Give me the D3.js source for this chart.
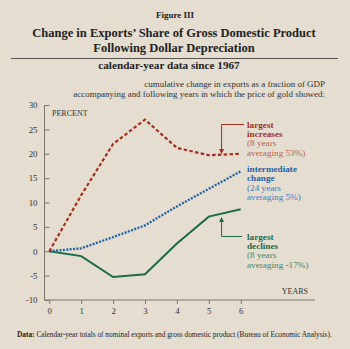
<!DOCTYPE html>
<html>
<head>
<meta charset="utf-8">
<script src="https://cdn.jsdelivr.net/npm/d3@7"></script>
<style>
  body { margin: 0; background: #e4ddd0; }
  svg { display: block; font-family: "Liberation Serif", "Times New Roman", serif; }
</style>
</head>
<body>
<svg width="350" height="349"></svg>
<script>
// years after the change in the gold price
var years = [0, 1, 2, 3, 4, 5, 6];
// cumulative change in exports/GDP, percent
var largestIncreases = [0, 11.5, 22, 27, 21.2, 19.7, 20];
var intermediateChange = [0, 0.6, 2.9, 5.3, 9.2, 12.8, 16.4];
var largestDeclines = [0, -1, -5.3, -4.7, 1.6, 7.1, 8.6];
var yTicks = [-10, -5, 0, 5, 10, 15, 20, 25, 30];
var xTicks = [0, 1, 2, 3, 4, 5, 6];

var svg = d3.select("svg");
svg.append("rect").attr("width", 350).attr("height", 349).attr("fill", "#e4ddd0");

var x = d3.scaleLinear().domain([0, 6]).range([49.3, 240.7]),
  y = d3.scaleLinear().domain([-10, 30]).range([300, 105]);

var axisColor = "#7d766c";

// headings
svg.append("text").attr("x", 175).attr("y", 18).attr("text-anchor", "middle")
  .attr("font-size", 9).attr("font-weight", "bold").attr("fill", "#222").text("Figure III");
svg.append("text").attr("x", 174).attr("y", 37).attr("text-anchor", "middle")
  .attr("font-size", 12.5).attr("font-weight", "bold").attr("fill", "#222")
  .text("Change in Exports\u2019 Share of Gross Domestic Product");
svg.append("text").attr("x", 174).attr("y", 52).attr("text-anchor", "middle")
  .attr("font-size", 12.5).attr("font-weight", "bold").attr("fill", "#222")
  .text("Following Dollar Depreciation");
svg.append("line").attr("x1", 11).attr("x2", 338).attr("y1", 58.5).attr("y2", 58.5)
  .attr("stroke", "#333").attr("stroke-width", 0.8);
svg.append("text").attr("x", 169).attr("y", 69).attr("text-anchor", "middle")
  .attr("font-size", 11.2).attr("font-weight", "bold").attr("fill", "#222")
  .text("calendar-year data since 1967");

svg.append("text").attr("x", 325).attr("y", 87).attr("text-anchor", "end")
  .attr("font-size", 8.95).attr("fill", "#333")
  .text("cumulative change in exports as a fraction of GDP");
svg.append("text").attr("x", 325).attr("y", 97).attr("text-anchor", "end")
  .attr("font-size", 8.95).attr("fill", "#333")
  .text("accompanying and following years in which the price of gold showed:");

//y axis with ticks pointing into the plot
var gy = svg.append("g").attr("transform", "translate(44.5,0)")
  .call(d3.axisLeft(y).tickValues(yTicks).tickSize(-5).tickPadding(7)
    .tickFormat(function (d) { return String(d); }));
gy.select(".domain").attr("d", "M0," + y(30) + "V" + y(-10)).attr("stroke", axisColor);
gy.selectAll(".tick line").attr("stroke", axisColor);
gy.selectAll(".tick text").attr("font-family", "Liberation Serif").attr("font-size", 8.8).attr("fill", "#333");

//x axis, the base line runs past the last year
var gx = svg.append("g").attr("transform", "translate(0," + y(-10) + ")")
  .call(d3.axisBottom(x).tickValues(xTicks).tickSize(4).tickPadding(4)
    .tickFormat(function (d) { return String(d); }));
gx.select(".domain").attr("d", "M44.5,0H315").attr("stroke", axisColor);
gx.selectAll(".tick line").attr("stroke", axisColor);
gx.selectAll(".tick text").attr("font-family", "Liberation Serif").attr("font-size", 8.8).attr("fill", "#333");

svg.append("text").attr("x", 52).attr("y", 116).attr("font-size", 8).attr("fill", "#333").text("PERCENT");
svg.append("text").attr("x", 308).attr("y", 294).attr("text-anchor", "end").attr("font-size", 8).attr("fill", "#333").text("YEARS");

var line = d3.line()
  .x(function (d, i) { return x(years[i]); })
  .y(function (d) { return y(d); });

var series = [
  { values: largestDeclines, color: "#1d6a49", dash: null, width: 2 },
  { values: intermediateChange, color: "#1f62a8", dash: "2,1.4", width: 2.3 },
  { values: largestIncreases, color: "#a3301f", dash: "3.5,2.3", width: 2.2 }
];
series.forEach(function (s) {
  svg.append("path").datum(s.values)
    .attr("fill", "none").attr("stroke", s.color)
    .attr("stroke-width", s.width)
    .attr("stroke-dasharray", s.dash)
    .attr("d", line);
});

// callouts
function arrowHead(cx, cy, dir, color) {
  svg.append("path")
    .attr("d", "M" + (cx - 2.5) + "," + (cy - dir * 5) + "L" + cx + "," + cy + "L" + (cx + 2.5) + "," + (cy - dir * 5) + "Z")
    .attr("fill", color);
}
function label(lines, lx, ly, color, light) {
  lines.forEach(function (t, i) {
    svg.append("text").attr("x", lx).attr("y", ly + i * 9.4)
      .attr("font-size", 9.2)
      .attr("font-weight", i < 2 ? "bold" : "normal")
      .attr("fill", i < 2 ? color : light)
      .text(t);
  });
}

var ax = x(5.4);
svg.append("path").attr("d", "M244,124.5H" + ax + "V150").attr("fill", "none")
  .attr("stroke", "#a3301f").attr("stroke-width", 1);
arrowHead(ax, 154, 1, "#a3301f");
label(["largest", "increases", "(8 years", "averaging 53%)"], 247, 127.5, "#a3301f", "#b4664c");

label(["intermediate", "change", "(24 years", "averaging 5%)"], 247, 172, "#1f62a8", "#3d7dbd");

svg.append("path").attr("d", "M242,236.5H" + ax + "V222").attr("fill", "none")
  .attr("stroke", "#1d6a49").attr("stroke-width", 1);
arrowHead(ax, 217, -1, "#1d6a49");
label(["largest", "declines", "(8 years", "averaging -17%)"], 247, 239.5, "#1d6a49", "#3f8a66");

// source note
var note = svg.append("text").attr("x", 17).attr("y", 337).attr("font-size", 7.35).attr("fill", "#222");
note.append("tspan").attr("font-weight", "bold").text("Data:");
note.append("tspan").text(" Calendar-year totals of nominal exports and gross domestic product (Bureau of Economic Analysis).");
</script>
</body>
</html>
